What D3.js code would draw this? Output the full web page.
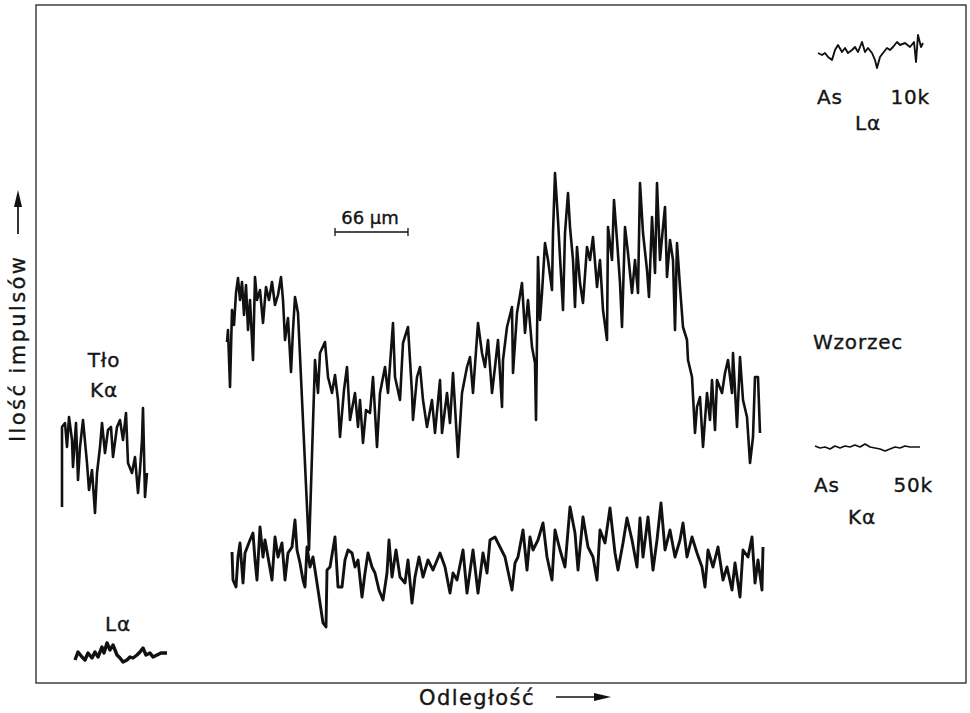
<!DOCTYPE html>
<html>
<head>
<meta charset="utf-8">
<script src="https://cdn.jsdelivr.net/npm/d3@7"></script>
<style>
  body { margin: 0; background: #fff; }
  text { font-family: "DejaVu Sans", sans-serif; fill: #151515; stroke: #151515; stroke-width: 0.35; }
</style>
</head>
<body>
<div id="chart"></div>
<script>
// [distance, counts] (arbitrary units)
const sampleK = [
  [191,358],[192,370],[194,313],[196,390],[198,375],[200,407],[202,422],[204,400],[206,418],[208,385],
  [210,415],[212,370],[214,400],[217,340],[219,423],[221,400],[224,410],[227,377],[230,413],[233,400],
  [236,418],[239,395],[242,405],[245,423],[247,400],[249,360],[252,382],[255,328],[257,370],[259,403],
  [262,387],[273,150],[279,340],[282,307],[284,347],[289,358],[292,323],[296,307],[299,325],[302,300],
  [304,263],[308,310],[311,333],[314,280],[319,307],[322,273],[324,300],[327,257],[330,290],[334,287],
  [337,323],[341,253],[344,307],[349,333],[352,307],[357,377],[359,323],[364,300],[367,357],[372,373],
  [376,307],[377,280],[381,323],[384,333],[387,300],[391,273],[396,300],[399,267],[404,320],[406,267],
  [411,307],[414,277],[417,327],[422,243],[426,307],[431,333],[434,343],[437,307],[442,377],[446,347],
  [449,333],[452,360],[456,307],[459,333],[462,360],[466,293],[467,340],[471,373],[476,393],[477,327],
  [481,387],[486,417],[489,367],[492,400],[496,353],[499,337],[500,280],[502,443],[504,380],[506,407],
  [509,457],[512,440],[516,410],[517,467],[519,527],[522,480],[524,443],[527,390],[529,467],[532,507],
  [534,473],[537,440],[539,393],[541,453],[544,417],[547,397],[551,453],[554,440],[557,463],[561,413],
  [564,440],[567,390],[571,360],[572,473],[576,440],[578,500],[581,460],[584,417],[586,373],[589,473],
  [592,447],[596,407],[599,440],[602,407],[604,517],[607,467],[611,430],[613,403],[616,483],[619,427],
  [621,517],[624,440],[627,473],[629,493],[631,423],[634,460],[637,440],[639,370],[641,457],[644,413],
  [647,373],[651,360],[652,340],[656,323],[659,267],[661,293],[664,303],[667,253],[671,307],[674,280],
  [676,320],[679,270],[681,320],[686,307],[689,327],[692,340],[696,307],[697,347],[701,273],[704,343],
  [707,300],[711,283],[714,237],[717,263],[719,323],[722,323],[724,267]
];
const sampleL = [
  [196,148],[197,120],[200,113],[202,143],[204,157],[207,117],[209,147],[214,160],[217,167],[219,140],
  [221,120],[224,173],[227,143],[229,160],[232,143],[236,120],[239,163],[242,143],[246,157],[249,120],
  [252,147],[256,153],[259,180],[261,150],[264,137],[267,120],[269,113],[271,153],[274,133],[277,143],
  [281,117],[284,97],[287,77],[290,73],[291,130],[294,133],[299,163],[302,113],[306,113],[309,140],
  [312,150],[316,147],[319,133],[322,140],[326,103],[329,127],[332,147],[336,133],[339,127],[343,110],
  [347,100],[351,127],[353,160],[356,123],[360,150],[364,123],[369,117],[372,140],[376,97],[379,123],
  [383,143],[387,123],[392,140],[397,130],[404,147],[409,133],[414,107],[417,127],[421,120],[427,150],
  [431,107],[437,150],[442,107],[447,147],[451,127],[454,160],[459,163],[464,153],[469,143],[476,110],
  [479,137],[482,143],[487,170],[491,130],[494,163],[497,150],[502,160],[507,177],[511,143],[516,120],
  [519,170],[524,150],[529,133],[534,193],[539,167],[542,130],[547,183],[552,153],[557,143],[561,120],
  [564,170],[569,157],[574,192],[579,147],[582,130],[587,157],[591,182],[596,160],[601,133],[604,182],
  [607,143],[612,183],[617,130],[621,160],[625,197],[629,150],[634,170],[639,143],[644,160],[647,177],
  [651,143],[656,163],[661,147],[666,133],[669,113],[672,150],[677,133],[682,153],[687,120],[691,133],
  [696,110],[699,137],[704,103],[707,150],[712,143],[716,163],[719,117],[722,140],[726,110],[727,153]
];
const backgroundK = [
  [26,193],[26,273],[29,277],[31,253],[33,283],[36,260],[37,233],[40,277],[42,220],[44,253],
  [47,280],[51,237],[53,210],[56,230],[59,187],[61,227],[64,253],[66,277],[69,247],[72,270],
  [75,273],[77,243],[81,273],[84,280],[87,260],[90,287],[92,237],[96,227],[99,243],[102,207],
  [104,230],[106,260],[107,292],[109,203],[111,227]
];
const backgroundL = [
  [39,40],[42,48],[46,43],[49,40],[52,47],[56,42],[59,48],[62,43],[66,53],[68,47],
  [71,57],[74,50],[77,55],[81,45],[84,42],[87,38],[91,40],[94,43],[97,42],[101,45],
  [104,48],[107,52],[110,45],[114,47],[117,43],[121,45],[125,47],[131,47]
];
const standardL = [
  [782,647],[786,645],[789,647],[792,643],[796,640],[799,650],[802,655],[806,648],[809,652],[812,647],
  [816,650],[819,653],[822,648],[826,658],[829,648],[832,652],[836,647],[839,640],[841,632],[844,643],
  [847,647],[851,652],[854,650],[857,653],[861,658],[864,655],[869,657],[874,653],[878,658],[880,638],
  [882,665],[885,653],[887,657]
];
const standardK = [
  [779,254],[784,252],[789,253],[794,251],[799,254],[804,252],[809,254],[814,253],[819,255],[824,253],
  [829,256],[834,253],[839,252],[844,251],[849,249],[854,251],[859,253],[864,252],[869,254],[874,253],
  [879,253],[884,253]
];
const scaleBarLabel = "66 µm";
const scaleBarLength = 73; // distance units

const width = 970, height = 713;
const frame = { left: 36, top: 5, right: 966, bottom: 683 };

const x = d3.scaleLinear().domain([0, 930]).range([frame.left, frame.right]);
const y = d3.scaleLinear().domain([17, 695]).range([frame.bottom, frame.top]);

const svg = d3.select("#chart")
  .append("svg")
  .attr("width", width)
  .attr("height", height);

svg.append("rect")
  .attr("x", frame.left)
  .attr("y", frame.top)
  .attr("width", frame.right - frame.left)
  .attr("height", frame.bottom - frame.top)
  .attr("fill", "none")
  .attr("stroke", "#222")
  .attr("stroke-width", 1.3);

const line = d3.line().x(d => x(d[0])).y(d => y(d[1]));

const traces = [
  { data: sampleK, w: 2.6 },
  { data: sampleL, w: 2.9 },
  { data: backgroundK, w: 2.6 },
  { data: backgroundL, w: 3.4 },
  { data: standardL, w: 1.9 },
  { data: standardK, w: 1.7 }
];

svg.append("g")
  .selectAll("path")
  .data(traces)
  .enter()
  .append("path")
  .attr("d", d => line(d.data))
  .attr("fill", "none")
  .attr("stroke", "#111")
  .attr("stroke-width", d => d.w)
  .attr("stroke-linejoin", "round");

// scale bar
const bar = svg.append("g");
const barY = 232, barX0 = 335;
const barX1 = barX0 + (x(scaleBarLength) - x(0));
bar.append("line")
  .attr("x1", barX0).attr("x2", barX1)
  .attr("y1", barY).attr("y2", barY)
  .attr("stroke", "#111").attr("stroke-width", 1.6);
[barX0, barX1].forEach(bx => {
  bar.append("line")
    .attr("x1", bx).attr("x2", bx)
    .attr("y1", barY - 4).attr("y2", barY + 4)
    .attr("stroke", "#111").attr("stroke-width", 1.3);
});
bar.append("text")
  .attr("x", 370).attr("y", 224)
  .attr("text-anchor", "middle")
  .attr("font-size", 18)
  .text(scaleBarLabel);

// annotations
const labels = [
  { t: "Tło", x: 104, y: 367, a: "middle" },
  { t: "Kα", x: 104, y: 397, a: "middle" },
  { t: "Lα", x: 118, y: 631, a: "middle" },
  { t: "As", x: 817, y: 104, a: "start" },
  { t: "10k", x: 930, y: 104, a: "end" },
  { t: "Lα", x: 868, y: 130, a: "middle" },
  { t: "Wzorzec", x: 813, y: 349, a: "start" },
  { t: "As", x: 814, y: 492, a: "start" },
  { t: "50k", x: 933, y: 492, a: "end" },
  { t: "Kα", x: 862, y: 524, a: "middle" }
];
svg.append("g")
  .selectAll("text")
  .data(labels)
  .enter()
  .append("text")
  .attr("x", d => d.x)
  .attr("y", d => d.y)
  .attr("text-anchor", d => d.a)
  .attr("font-size", 20)
  .attr("letter-spacing", 0.8)
  .text(d => d.t);

// axis titles with arrows
svg.append("text")
  .attr("x", 419).attr("y", 705)
  .attr("font-size", 21)
  .attr("letter-spacing", 1.4)
  .text("Odległość");
svg.append("line")
  .attr("x1", 556).attr("x2", 596).attr("y1", 697).attr("y2", 697)
  .attr("stroke", "#111").attr("stroke-width", 1.7);
svg.append("path")
  .attr("d", "M594,693 L611,697 L594,701 Z")
  .attr("fill", "#111");

svg.append("text")
  .attr("transform", "translate(25,442) rotate(-90)")
  .attr("font-size", 21)
  .attr("letter-spacing", 2.4)
  .text("Ilość impulsów");
svg.append("line")
  .attr("x1", 18).attr("x2", 18).attr("y1", 234).attr("y2", 205)
  .attr("stroke", "#111").attr("stroke-width", 1.7);
svg.append("path")
  .attr("d", "M14,207 L18,190 L22,207 Z")
  .attr("fill", "#111");
</script>
</body>
</html>
